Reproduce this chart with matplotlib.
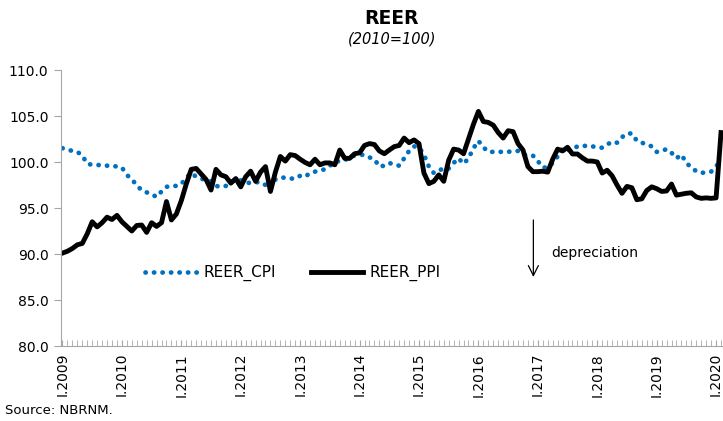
import numpy as np
import matplotlib.pyplot as plt

# monthly data, I.2009 .. II.2020
reer_cpi = [101.5, 101.35, 101.2, 101.1, 100.7, 99.8, 99.7, 99.7, 99.6, 99.6, 99.6, 99.5,
            99.4, 98.6, 98.1, 97.5, 96.9, 96.7, 96.5, 96.2, 96.8, 97.3, 97.4, 97.4,
            97.6, 98.3, 98.8, 98.4, 98.2, 98.0, 97.9, 97.4, 97.3, 97.4, 97.8, 98.1,
            98.0, 97.8, 97.7, 97.8, 97.8, 97.5, 97.1, 98.1, 98.3, 98.3, 98.2, 98.2,
            98.5, 98.4, 98.8, 98.95, 99.1, 99.2, 99.6, 100.0, 100.1, 100.2, 100.5, 100.7,
            100.8, 100.76, 100.5, 100.3, 99.5, 99.6, 99.9, 99.7, 99.6, 100.4, 101.2, 101.7,
            101.6, 100.8, 99.5, 98.8, 99.0, 99.4, 99.3, 99.9, 100.4, 99.8, 100.4, 101.5,
            102.3, 101.6, 101.1, 101.1, 101.1, 101.1, 101.1, 101.2, 101.2, 100.8, 100.7, 100.7,
            100.1, 99.4, 99.4, 99.9, 100.6, 101.5, 101.3, 101.4, 101.7, 101.7, 101.8, 101.7,
            101.6, 101.55, 101.9, 102.2, 102.1, 102.7, 103.1, 103.1, 102.3, 102.1, 101.9, 101.7,
            101.1, 101.2, 101.4, 101.0, 100.4, 100.8, 99.9, 99.4, 99.0, 98.8, 98.9, 98.95,
            99.5, 100.3]

reer_ppi = [90.1, 90.3, 90.6, 91.0, 91.15, 92.2, 93.5, 92.95, 93.4, 94.0, 93.75, 94.2,
            93.5, 93.0, 92.5, 93.1, 93.15, 92.35, 93.4, 93.0, 93.4, 95.7, 93.7, 94.35,
            95.8, 97.6, 99.2, 99.3, 98.7, 98.1, 96.95, 99.2, 98.6, 98.4, 97.7, 98.2,
            97.3, 98.4, 99.0, 97.9, 98.9, 99.5, 96.8, 98.9, 100.6, 100.1, 100.8, 100.7,
            100.3, 99.95, 99.7, 100.3, 99.7, 99.9, 99.9, 99.7, 101.3, 100.4, 100.4, 100.9,
            101.0, 101.8, 102.0, 101.9, 101.2, 100.9, 101.3, 101.67, 101.8, 102.6, 102.1, 102.4,
            102.0, 98.8, 97.65, 97.9, 98.6, 97.9, 100.2, 101.4, 101.3, 100.9, 102.5, 104.1,
            105.5, 104.4, 104.3, 104.0, 103.2, 102.6, 103.4, 103.3, 102.0, 101.3, 99.5, 98.95,
            98.95, 99.0, 98.9, 100.3, 101.4, 101.2, 101.6, 100.87, 100.87, 100.45, 100.1, 100.1,
            100.0, 98.8, 99.1, 98.5, 97.5, 96.6, 97.35, 97.2, 95.9, 96.0, 96.9, 97.3,
            97.1, 96.8, 96.85, 97.6, 96.4, 96.5, 96.6, 96.65, 96.2, 96.05, 96.1, 96.05,
            96.1, 103.2]

years = list(range(2009, 2021))
year_labels = ["I." + str(y) for y in years]
yticks = [80, 85, 90, 95, 100, 105, 110]

months = np.arange(len(reer_ppi))

fig = plt.figure(figsize=(7.23, 4.21), dpi=100)
ax = fig.add_axes([61 / 723, 1 - 346 / 421, 1 - 61 / 723, (346 - 70) / 421])

ax.plot(months, reer_cpi, color="#0070C0", lw=3.4, linestyle=(0, (0.05, 1.75)),
        dash_capstyle="round", label="REER_CPI")
ax.plot(months, reer_ppi, color="black", lw=3.5, solid_joinstyle="round",
        label="REER_PPI")

ax.set_xlim(-0.3, 133.4)
ax.set_ylim(80, 110)
ax.set_yticks(yticks)
ax.set_yticklabels([f"{v:.1f}" for v in yticks], fontsize=10)
ax.set_xticks([12 * i for i in range(len(years))])
ax.set_xticklabels(year_labels, rotation=90, fontsize=10)
ax.set_xticks(np.arange(0, 134), minor=True)

for s in ["top", "right"]:
    ax.spines[s].set_visible(False)
for s in ["left", "bottom"]:
    ax.spines[s].set_color("#a6a6a6")
ax.tick_params(axis="y", direction="out", length=5, color="#a6a6a6", pad=4)
ax.tick_params(axis="x", which="both", direction="in", length=4, color="#a6a6a6", pad=5)

leg = ax.legend(loc="center", bbox_to_anchor=(0.35, 0.264), ncol=2, frameon=False,
                fontsize=11, handlelength=3.4, handletextpad=0.4, columnspacing=2.3)

ax.annotate("", xy=(95.1, 87.2), xytext=(95.1, 94.0),
            arrowprops=dict(arrowstyle="->", color="black", lw=0.9,
                            mutation_scale=18))
ax.text(98.7, 90.1, "depreciation", fontsize=10, va="center", ha="left")

fig.text(392 / 723, 1 - 18 / 421, "REER", fontsize=13.5, fontweight="bold",
         ha="center", va="center")
fig.text(392 / 723, 1 - 39 / 421, "(2010=100)", fontsize=10.5, style="italic",
         ha="center", va="center")
fig.text(5 / 723, 1 - 410 / 421, "Source: NBRNM.", fontsize=9.5, ha="left", va="center")

fig.savefig("out.png", dpi=100)
